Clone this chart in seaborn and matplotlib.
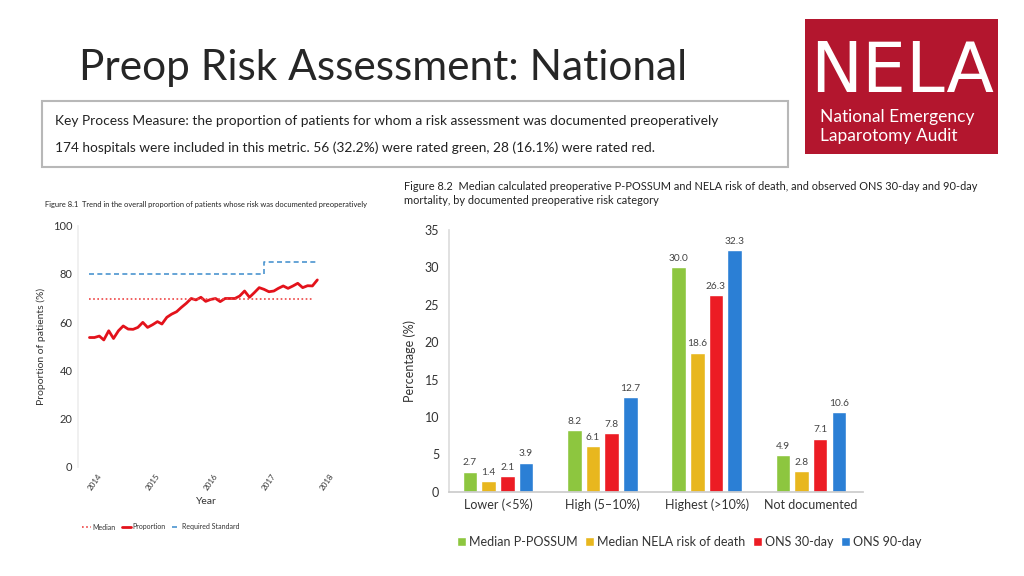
import matplotlib
matplotlib.use("Agg")
import matplotlib.pyplot as plt
from matplotlib.patches import Rectangle
from matplotlib.lines import Line2D
import seaborn as sns
import pandas as pd

# figure 8.1: monthly proportion of patients with documented risk (Dec 2013 - Nov 2017)
months = pd.date_range("2013-12-01", periods=48, freq="MS")
proportion = [53.6, 53.6, 54.2, 52.6, 56.4, 53.2, 56.4, 58.4, 57.1, 57.0, 57.8, 59.9,
              57.8, 58.9, 60.2, 59.2, 62.0, 63.3, 64.3, 66.1, 67.8, 69.8, 69.2, 70.3,
              68.6, 69.4, 69.8, 68.5, 69.8, 69.8, 69.8, 70.8, 72.9, 70.3, 72.2, 74.3,
              73.6, 72.6, 72.9, 74.0, 75.0, 74.0, 75.0, 76.1, 74.3, 75.1, 75.0, 77.5]
median_value = 69.5
standard_dates = pd.to_datetime(["2013-12-01", "2016-12-01", "2016-12-01", "2017-11-01"])
standard_values = [80, 80, 85, 85]
year_ticks = ["2014", "2015", "2016", "2017", "2018"]

# figure 8.2: risk of death by documented preoperative risk category
risk_categories = ["Lower (<5%)", "High (5–10%)", "Highest (>10%)", "Not documented"]
measures = ["Median P-POSSUM", "Median NELA risk of death", "ONS 30-day", "ONS 90-day"]
p_possum = [2.7, 8.2, 30.0, 4.9]
nela_risk = [1.4, 6.1, 18.6, 2.8]
ons_30 = [2.1, 7.8, 26.3, 7.1]
ons_90 = [3.9, 12.7, 32.3, 10.6]
bar_colors = ["#8dc63f", "#e8b71e", "#ec1c24", "#2b7fd5"]

sns.set_theme(style="white")
plt.rcParams["font.family"] = ["Lato", "DejaVu Sans"]

W, H = 1024, 576
fig = plt.figure(figsize=(W / 100, H / 100), dpi=100)
fig.patch.set_facecolor("white")


def fx(px):
    return px / W


def fy(py):
    return 1 - py / H


# slide title
fig.text(fx(79), fy(68), "Preop Risk Assessment: National", fontsize=30.5,
         color="#262626", va="center", ha="left", fontweight="normal")

# key process measure box
fig.patches.append(Rectangle((fx(42), fy(167)), fx(788) - fx(42), fy(101) - fy(167),
                             transform=fig.transFigure, fill=False,
                             edgecolor="#b8b8b8", linewidth=1.5))
fig.text(fx(55), fy(121), "Key Process Measure: the proportion of patients for whom a risk "
         "assessment was documented preoperatively", fontsize=9.9, color="#222222",
         va="center", fontweight="normal")
fig.text(fx(55), fy(148), "174 hospitals were included in this metric. 56 (32.2%) were rated "
         "green, 28 (16.1%) were rated red.", fontsize=9.9, color="#222222",
         va="center", fontweight="normal")

# NELA logo
fig.patches.append(Rectangle((fx(805), fy(154)), fx(998) - fx(805), fy(19) - fy(154),
                             transform=fig.transFigure, facecolor="#b3162e",
                             edgecolor="none"))
fig.text(fx(902), fy(73), "NELA", fontsize=50, color="white", ha="center",
         va="center", family="DejaVu Sans", fontweight="normal")
fig.text(fx(820), fy(117), "National Emergency", fontsize=12.5, color="white",
         va="center")
fig.text(fx(820), fy(136), "Laparotomy Audit", fontsize=12.5, color="white",
         va="center")

# ---------------- figure 8.1 ----------------
fig.text(fx(45), fy(205), "Figure 8.1  Trend in the overall proportion of patients whose "
         "risk was documented preoperatively", fontsize=5.4, color="#222222",
         va="center")

ax1 = fig.add_axes([fx(78), fy(466.7), fx(335) - fx(78), fy(225.7) - fy(466.7)])
trend = pd.DataFrame({"month": months, "proportion": proportion})
sns.lineplot(data=trend, x="month", y="proportion", color="#e3121b",
             linewidth=2, ax=ax1)
ax1.hlines(median_value, months[0], months[-2], colors="#ee4444",
           linestyles=(0, (1, 1.5)), linewidth=1.2)
ax1.plot(standard_dates, standard_values, color="#4b95cf",
         linestyle=(0, (3, 2)), linewidth=1.2)
ax1.set_ylim(0, 100)
ax1.set_yticks([0, 20, 40, 60, 80, 100])
tick_dates = pd.to_datetime([y + "-01-01" for y in year_ticks])
ax1.set_xticks(tick_dates)
ax1.set_xticklabels(year_ticks, rotation=55, ha="center", fontsize=5.8,
                    color="#333333")
ax1.set_xlim(pd.Timestamp("2013-09-20"), pd.Timestamp("2018-02-20"))
ax1.tick_params(axis="y", labelsize=8, colors="#333333", length=0, pad=4)
ax1.tick_params(axis="x", length=2, color="#dddddd", pad=2)
for s in ["top", "right", "bottom"]:
    ax1.spines[s].set_visible(False)
ax1.spines["left"].set_color("#eeeeee")
ax1.set_ylabel("Proportion of patients (%)", fontsize=7.5, color="#333333",
               labelpad=5)
ax1.set_xlabel("Year", fontsize=7.5, color="#333333", labelpad=4)
handles = [Line2D([], [], color="#ee4444", linestyle=(0, (1, 1.5)), linewidth=1.2),
           Line2D([], [], color="#e3121b", linewidth=2),
           Line2D([], [], color="#4b95cf", linestyle=(0, (3, 2)), linewidth=1.2)]
fig.legend(handles, ["Median", "Proportion", "Required Standard"],
           loc="center left", bbox_to_anchor=(fx(76), fy(527)), ncol=3,
           frameon=False, fontsize=5, handlelength=1.2, handletextpad=0.3,
           columnspacing=0.9, labelcolor="#333333")

# ---------------- figure 8.2 ----------------
fig.text(fx(404), fy(186), "Figure 8.2  Median calculated preoperative P-POSSUM and NELA "
         "risk of death, and observed ONS 30-day and 90-day", fontsize=7.9,
         color="#222222", va="center", fontweight="normal")
fig.text(fx(404), fy(201), "mortality, by documented preoperative risk category",
         fontsize=7.9, color="#222222", va="center", fontweight="normal")

ax2 = fig.add_axes([fx(449), fy(491.7), fx(863) - fx(449), fy(230) - fy(491.7)])
bars = pd.DataFrame({
    "category": risk_categories * 4,
    "measure": [m for m in measures for _ in risk_categories],
    "value": p_possum + nela_risk + ons_30 + ons_90,
})
sns.barplot(data=bars, x="category", y="value", hue="measure", hue_order=measures,
            palette=bar_colors, saturation=1, width=0.716, gap=0.22, ax=ax2)
for cont in ax2.containers:
    ax2.bar_label(cont, fmt="%.1f", padding=3, fontsize=7.3, color="#444444")
ax2.set_ylim(0, 35)
ax2.set_yticks([0, 5, 10, 15, 20, 25, 30, 35])
ax2.set_xlim(-0.47, 3.5)
ax2.set_xlabel("")
ax2.set_ylabel("Percentage (%)", fontsize=9, color="#333333", labelpad=6)
ax2.tick_params(axis="y", labelsize=9, colors="#333333", length=3,
                color="#cccccc", pad=4)
ax2.tick_params(axis="x", labelsize=9, colors="#333333", length=0, pad=5)
for s in ["top", "right"]:
    ax2.spines[s].set_visible(False)
ax2.spines["left"].set_color("#dddddd")
ax2.spines["bottom"].set_color("#cccccc")
h, l = ax2.get_legend_handles_labels()
ax2.get_legend().remove()
fig.legend(h, l, loc="center left", bbox_to_anchor=(fx(446), fy(542)), ncol=4,
           frameon=False, fontsize=9, handlelength=0.7, handleheight=0.7,
           handletextpad=0.25, columnspacing=0.6, labelcolor="#333333")

fig.savefig("out.png", dpi=100, facecolor="white")
